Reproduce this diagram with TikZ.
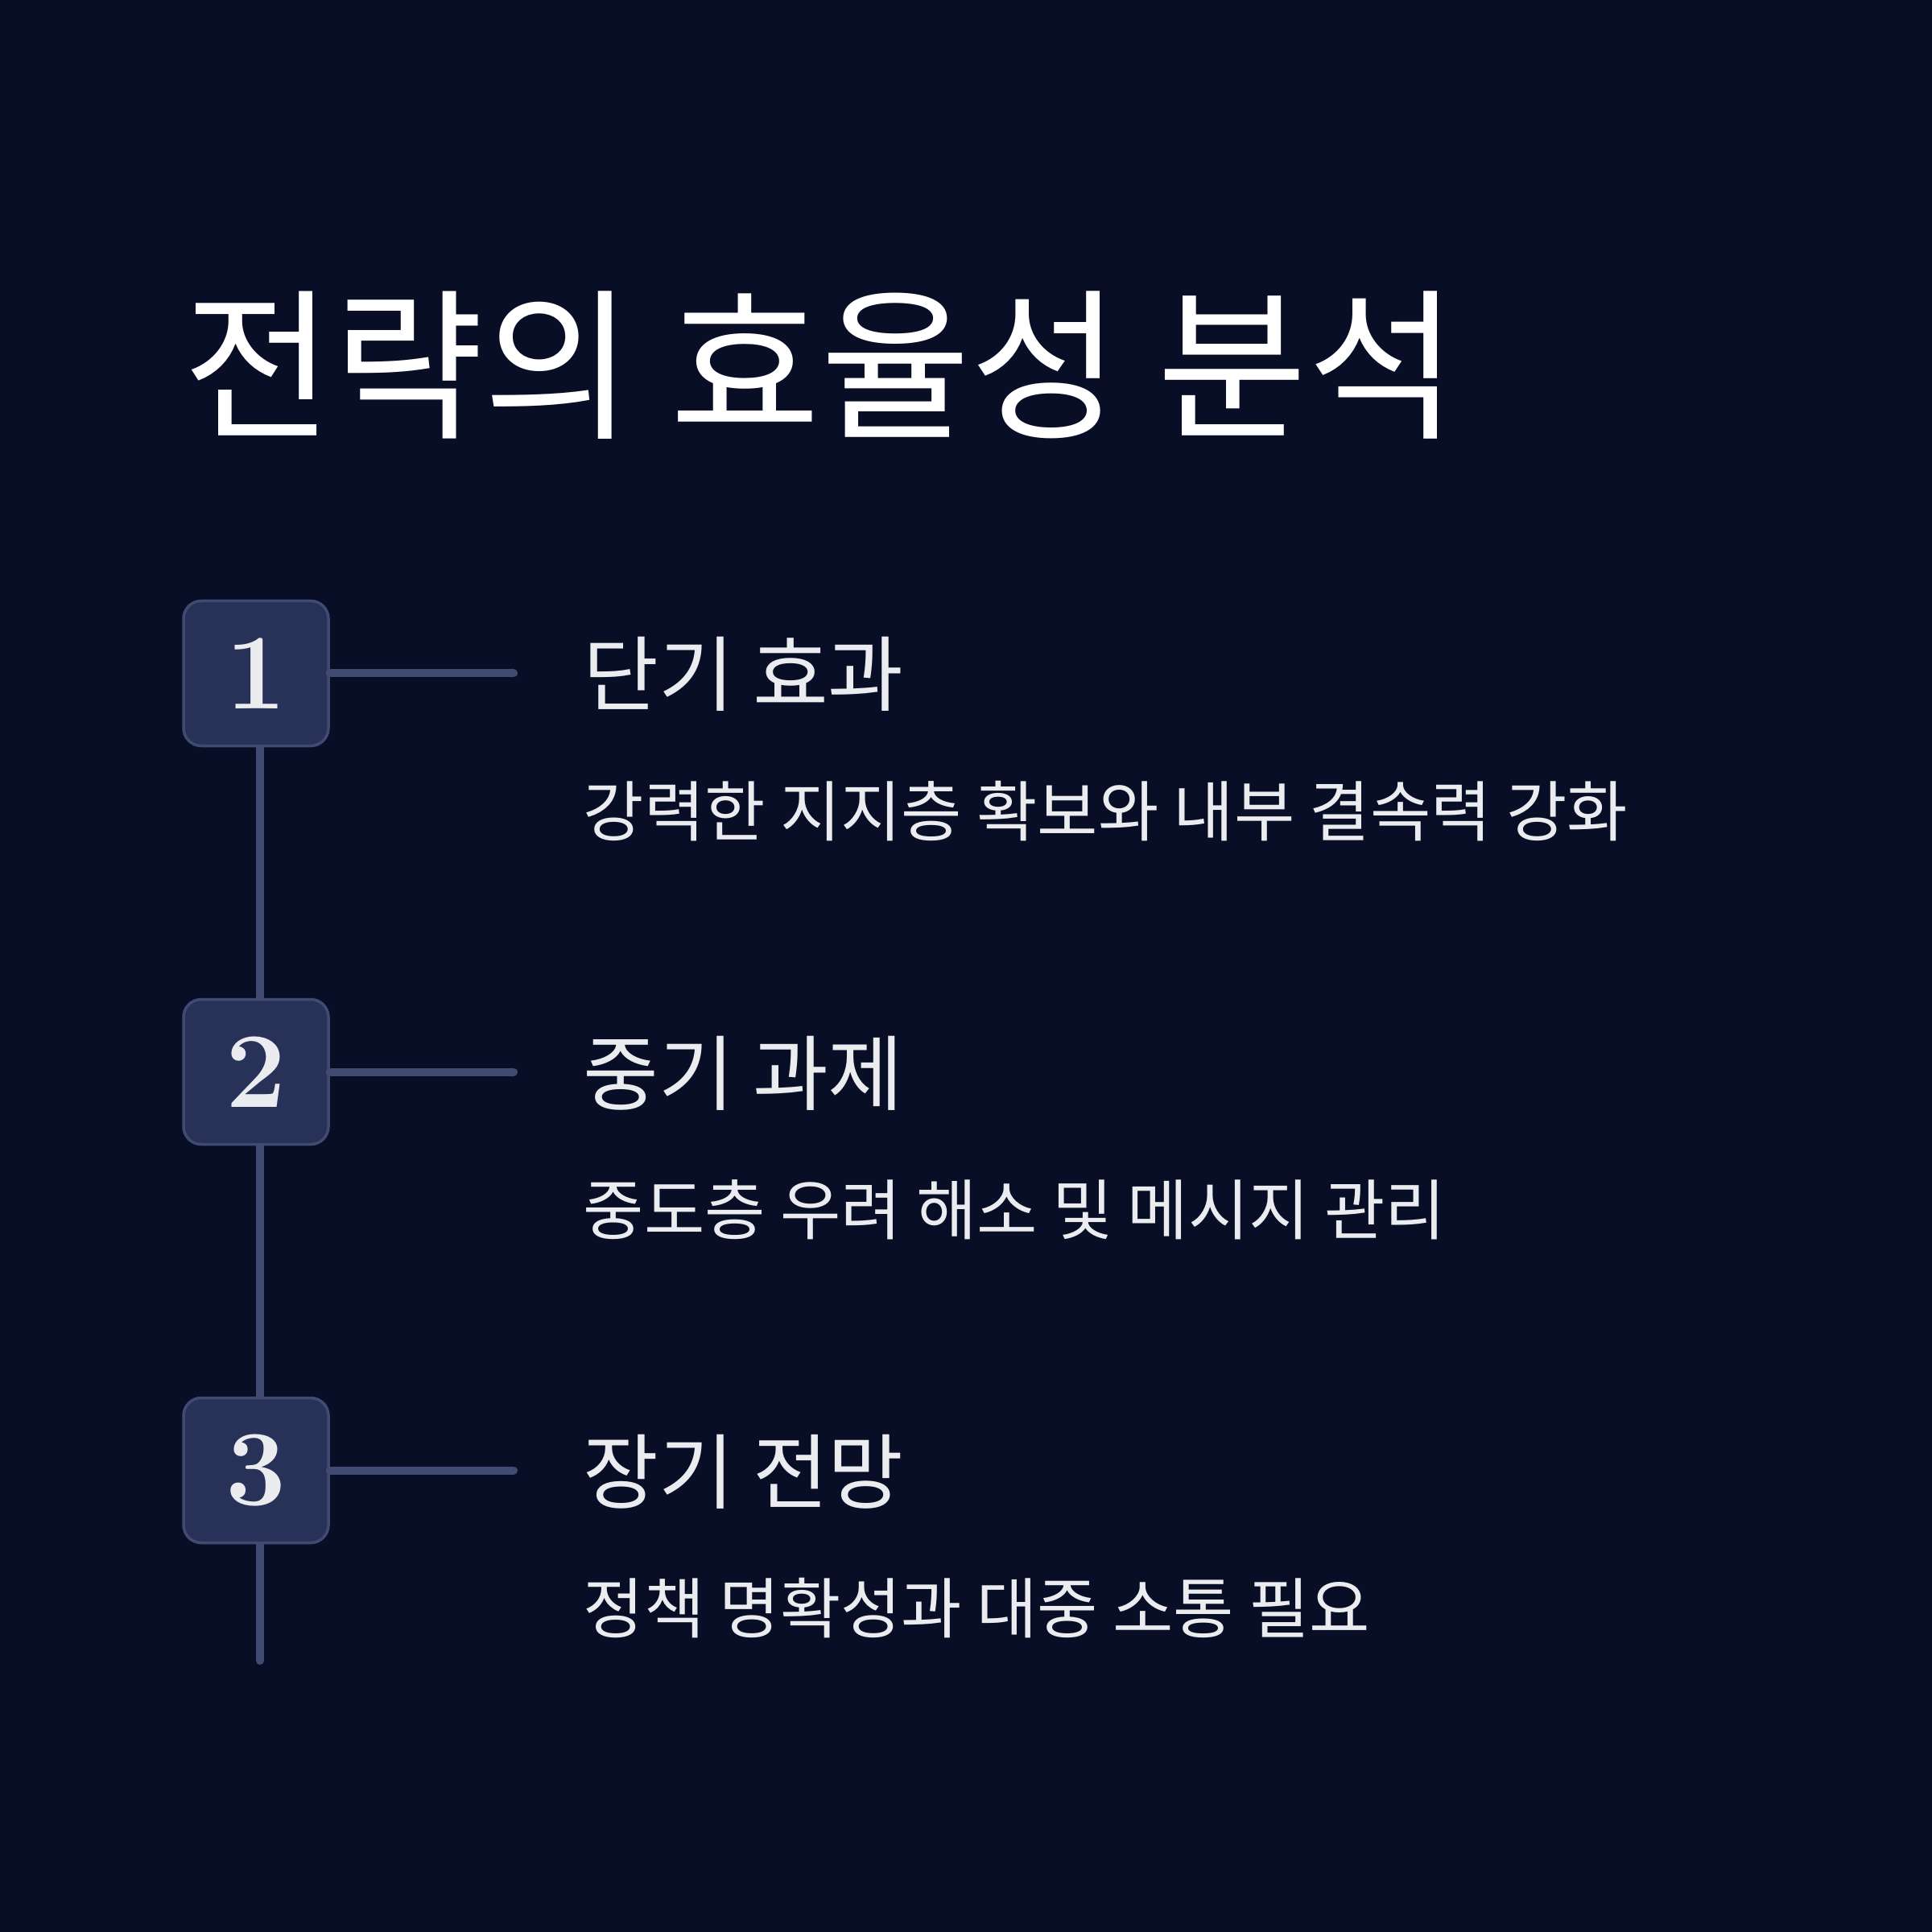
\documentclass[tikz,border=0pt]{standalone}
\usepackage{fontspec}
\newfontfamily\krfont{Noto Sans CJK KR}
\usetikzlibrary{positioning,backgrounds}

\definecolor{bgnavy}{HTML}{090E27}
\definecolor{boxfill}{HTML}{283259}
\definecolor{boxline}{HTML}{414B72}
\definecolor{paletext}{HTML}{EBECF0}

\tikzset{
  numbox/.style={draw=boxline,line width=0.035cm,fill=boxfill,rounded corners=0.22cm,
    minimum size=1.8cm,inner sep=0pt,text=paletext,
    font=\fontsize{38}{40}\selectfont\bfseries},
  link/.style={draw=boxline,line width=0.1cm,line cap=round},
  titletext/.style={anchor=base west,inner sep=0pt,text=white,
    font=\krfont\fontsize{57.7}{60}\selectfont},
  headtext/.style={anchor=base west,inner sep=0pt,text=paletext,
    font=\krfont\fontsize{29}{30}\selectfont},
  desctext/.style={anchor=base west,inner sep=0pt,text=paletext,
    font=\krfont\fontsize{23.3}{25}\selectfont}
}

\begin{document}
\begin{tikzpicture}[x=1cm,y=-1cm]
  \begin{pgfonlayer}{background}
    \fill[bgnavy] (0,0) rectangle (24,24);
  \end{pgfonlayer}
  \useasboundingbox (0,0) rectangle (24,24);

  \node[titletext] (title) at (2.27,5.30) {전략의 효율성 분석};

  % three steps of the timeline
  \foreach \n/\head/\desc in {1/단기 효과/강력한 지지층 확보와 내부 결속력 강화,
                              2/중기 과제/중도층 우려 해소 및 메시지 관리,
                              3/장기 전망/정책 명확성과 대중 소통 필요}{
    \node[numbox] (box\n) at (3.18,{8.365+4.95*(\n-1)}) {\n};
    \coordinate (tip\n) at (6.38,{8.365+4.95*(\n-1)});
    \draw[link] (box\n.east) -- (tip\n);
    \node[headtext] (head\n) at (7.24,{8.76+4.95*(\n-1)}) {\head};
    \node[desctext] (desc\n) at (7.24,{10.38+4.95*(\n-1)}) {\desc};
  }

  \coordinate (spineend) at (3.23,20.63);
  \begin{pgfonlayer}{background}
    \draw[link] (box1.center -| spineend) -- (spineend);
  \end{pgfonlayer}
\end{tikzpicture}
\end{document}
